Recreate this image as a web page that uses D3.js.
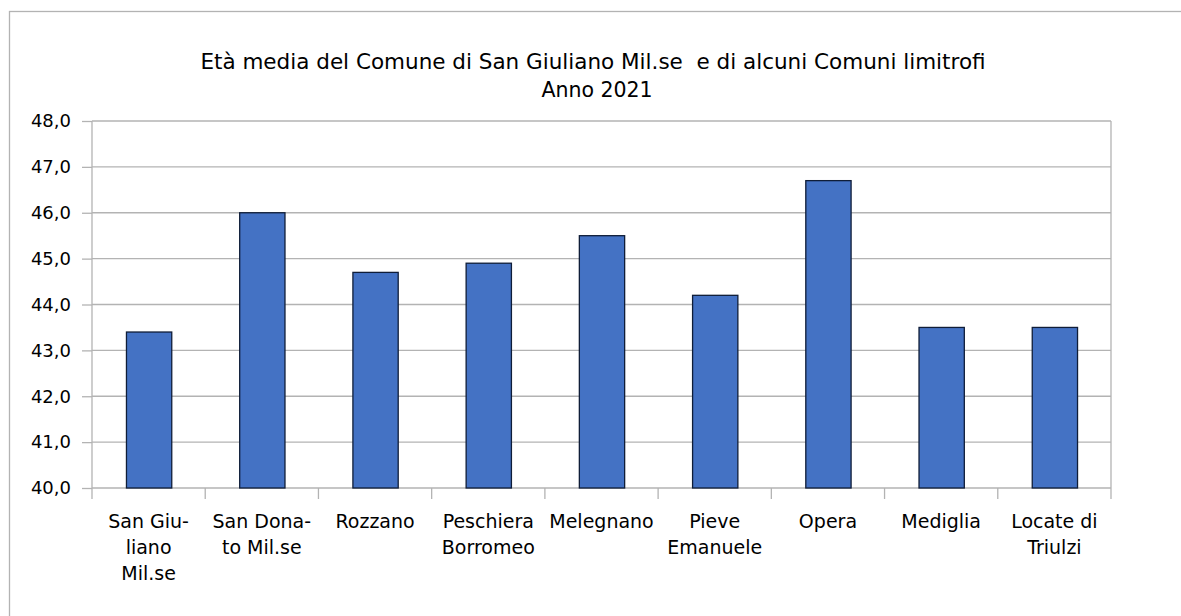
<!DOCTYPE html>
<html>
<head>
    <meta charset="utf-8">
    <title></title>
    <style>
        body { margin: 0; background: #fff; }
        text { font-family: "DejaVu Sans", Verdana, sans-serif; fill: #000; }
    </style>
</head>
<body>
    <script src="https://d3js.org/d3.v7.min.js"></script>
    <script>

    // data
    var comuni = ["San Giuliano Mil.se", "San Donato Mil.se", "Rozzano", "Peschiera Borromeo",
        "Melegnano", "Pieve Emanuele", "Opera", "Mediglia", "Locate di Triulzi"];
    // labels as wrapped in the picture
    var labelLines = [["San Giu-", "liano", "Mil.se"], ["San Dona-", "to Mil.se"], ["Rozzano"],
        ["Peschiera", "Borromeo"], ["Melegnano"], ["Pieve", "Emanuele"], ["Opera"],
        ["Mediglia"], ["Locate di", "Triulzi"]];
    var etaMedia = [43.4, 46.0, 44.7, 44.9, 45.5, 44.2, 46.7, 43.5, 43.5];
    var yTicks = [40, 41, 42, 43, 44, 45, 46, 47, 48];
    var titleLines = ["Età media del Comune di San Giuliano Mil.se  e di alcuni Comuni limitrofi", "Anno 2021"];

    var W = 1181, H = 616;
    var margin = { top: 121, left: 92, right: 70, bottom: 128 };
    var width = W - margin.left - margin.right,
        height = H - margin.top - margin.bottom;

    var svg = d3.select("body").append("svg")
        .attr("width", W)
        .attr("height", H);

    // outer frame
    svg.append("rect")
        .attr("x", 9.5).attr("y", 11.5)
        .attr("width", 1200).attr("height", 700)
        .attr("fill", "none")
        .attr("stroke", "#b3b3b3")
        .attr("stroke-width", 1.3);

    // title (two lines, slightly different sizes to match the picture)
    var titlePos = [{ x: 593, y: 68.5, size: 21.5 }, { x: 597, y: 96.5, size: 20.5 }];
    svg.append("g").selectAll("text")
        .data(titleLines)
        .enter().append("text")
        .attr("x", function(d, i) { return titlePos[i].x; })
        .attr("y", function(d, i) { return titlePos[i].y; })
        .attr("text-anchor", "middle")
        .style("font-size", function(d, i) { return titlePos[i].size + "px"; })
        .style("white-space", "pre")
        .text(function(d) { return d; });

    var g = svg.append("g")
        .attr("transform", "translate(" + margin.left + "," + margin.top + ")");

    var x = d3.scaleBand().domain(comuni).range([0, width]).paddingInner(0).paddingOuter(0);
    var y = d3.scaleLinear().domain([40, 48]).range([height, 0]);

    var fmt = function(d) { return d3.format(".1f")(d).replace(".", ","); };

    // y axis + gridlines
    var yAxis = g.append("g")
        .call(d3.axisLeft(y).tickValues(yTicks).tickFormat(fmt).tickSize(10).tickPadding(11));
    yAxis.select(".domain").remove();
    yAxis.selectAll(".tick line").attr("stroke", "#b3b3b3").attr("stroke-width", 1.3);
    yAxis.selectAll(".tick text").style("font-size", "18px").attr("fill", "#000");

    g.append("g").selectAll("line")
        .data(yTicks)
        .enter().append("line")
        .attr("x1", 0).attr("x2", width)
        .attr("y1", function(d) { return y(d); })
        .attr("y2", function(d) { return y(d); })
        .attr("stroke", "#b3b3b3")
        .attr("stroke-width", 1.3);

    // vertical frame of plot
    g.append("line").attr("x1", 0).attr("x2", 0).attr("y1", 0).attr("y2", height)
        .attr("stroke", "#b3b3b3").attr("stroke-width", 1.3);
    g.append("line").attr("x1", width).attr("x2", width).attr("y1", 0).attr("y2", height)
        .attr("stroke", "#b3b3b3").attr("stroke-width", 1.3);

    // x ticks between categories
    var xTickPos = comuni.map(function(d) { return x(d); }).concat([width]);
    g.append("g").selectAll("line")
        .data(xTickPos)
        .enter().append("line")
        .attr("x1", function(d) { return d; }).attr("x2", function(d) { return d; })
        .attr("y1", height).attr("y2", height + 11)
        .attr("stroke", "#b3b3b3").attr("stroke-width", 1.3);

    // bars
    var barW = x.bandwidth() * 0.4;
    g.append("g").selectAll("rect")
        .data(etaMedia)
        .enter().append("rect")
        .attr("x", function(d, i) { return x(comuni[i]) + (x.bandwidth() - barW) / 2 + 0.5; })
        .attr("y", function(d) { return y(d); })
        .attr("width", barW)
        .attr("height", function(d) { return height - y(d); })
        .attr("fill", "#4472c4")
        .attr("stroke", "#0f1d38")
        .attr("stroke-width", 1.3);

    // category labels
    g.append("g").selectAll("text")
        .data(labelLines)
        .enter().append("text")
        .attr("text-anchor", "middle")
        .style("font-size", "19px")
        .attr("transform", function(d, i) {
            return "translate(" + (x(comuni[i]) + x.bandwidth() / 2) + "," + (height + 40) + ")";
        })
        .selectAll("tspan")
        .data(function(d) { return d; })
        .enter().append("tspan")
        .attr("x", 0)
        .attr("y", function(d, i) { return i * 26; })
        .text(function(d) { return d; });

    </script>
</body>
</html>
